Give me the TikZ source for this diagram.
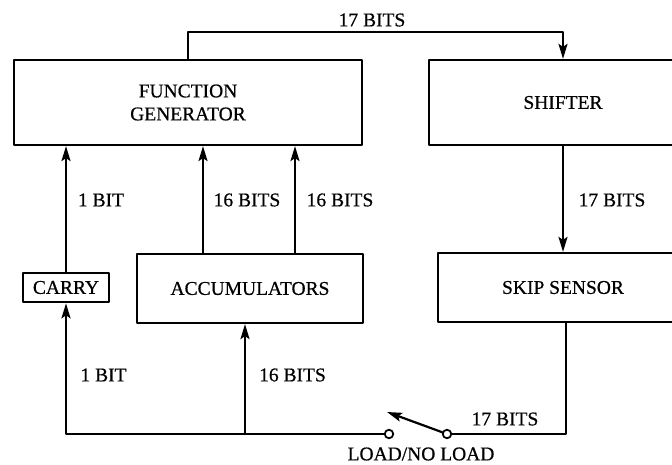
\documentclass[tikz,border=0pt]{standalone}
\usepackage{fontspec}
\setmainfont{Liberation Serif}[FakeBold=0.6]
\usetikzlibrary{arrows.meta}
\begin{document}
\begin{tikzpicture}[>={Stealth[length=15pt,width=9pt,inset=3pt]},line join=round,line cap=round,font=\fontsize{19.5}{23}\selectfont,x=1pt,y=-1pt,line width=2.2pt,
	blk/.style={draw,inner sep=0pt},
	term/.style={circle,draw,fill=white,inner sep=0pt,minimum size=8.5pt,line width=1.8pt}]
	
	\useasboundingbox (0,0) rectangle (672,465);
	\clip (0,0) rectangle (672,465);
	% Các khối
	\node[blk,minimum width=348,minimum height=85,align=center] (fg) at (188,102.5) {FUNCTION\\GENERATOR};
	\node[blk,minimum width=268,minimum height=85] (sh) at (563,102.5) {SHIFTER};
	\node[blk,minimum width=250,minimum height=69] (sk) at (563,287.5) {SKIP SENSOR};
	\node[blk,minimum width=226,minimum height=69] (acc) at (250,288.5) {ACCUMULATORS};
	\node[blk,minimum width=86,minimum height=29,line width=2.6pt] (cy) at (66,287.5) {CARRY};
	\node[term] (sl) at (389,434) {};
	\node[term] (sr) at (447,434) {};
	\coordinate (t) at (188,32);
	\coordinate (bl) at (66,434);
	\coordinate (bm) at (245,434);
	\coordinate (br) at (566,434);
	\coordinate (lev) at (387,412);
	% Đường nối
	\draw[->] (fg.north) -- (t) -| (sh.north);
	\draw[->] (cy.north) -- (cy.north |- fg.south);
	\draw[->] ([xshift=-47pt]acc.north) -- ([xshift=-47pt]acc.north |- fg.south);
	\draw[->] ([xshift=45pt]acc.north) -- ([xshift=45pt]acc.north |- fg.south);
	\draw[->] (sh.south) -- (sk.north);
	\draw[->] (sl.west) -- (bl) -- (cy.south);
	\draw[->] (bm) -- (bm |- acc.south);
	\draw (sr.east) -- (br) -- (br |- sk.south);
	\draw[->] (sr) -- (lev); % Công tắc
	% Nhãn
	\node (b17t) at (372,20) {17 BITS};
	\node (b1u) at (101,200) {1 BIT};
	\node (b16a) at (247,200) {16 BITS};
	\node (b16b) at (340,200) {16 BITS};
	\node (b17r) at (612,200) {17 BITS};
	\node (b1d) at (103.5,375) {1 BIT};
	\node (b16d) at (292.5,375) {16 BITS};
	\node (b17d) at (505,419) {17 BITS};
	\node (ld) at (421,454) {LOAD/NO LOAD};
\end{tikzpicture}
\end{document}
